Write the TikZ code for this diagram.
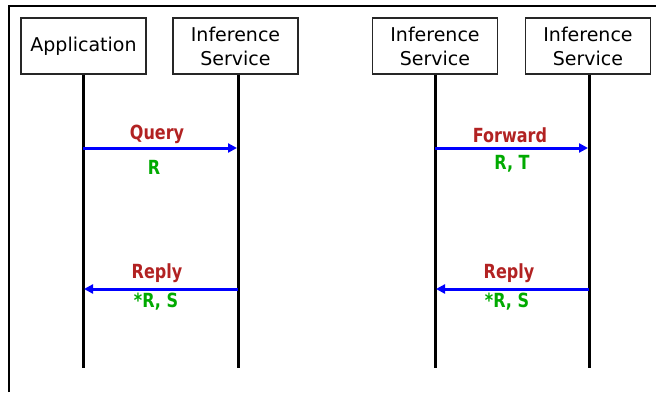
\documentclass[tikz,border=0pt]{standalone}
\usepackage{fontspec}
\setmainfont{DejaVu Sans}
\usetikzlibrary{arrows.meta}
\definecolor{msgred}{RGB}{178,34,34}
\definecolor{msggreen}{RGB}{0,170,0}
\definecolor{msgblue}{RGB}{0,0,255}
\newcommand{\tallbold}[1]{\scalebox{0.97}[1.18]{\bfseries #1}}
\begin{document}
\begin{tikzpicture}[x=1pt,y=-1pt,
  actor/.style={draw=black!85,line width=1.3pt,minimum width=125pt,minimum height=56pt,
    inner sep=0pt,align=center,font=\fontsize{19}{24}\selectfont},
  lifeline/.style={line width=3pt,black},
  msg/.style={line width=3pt,msgblue,-{Triangle[length=9pt,width=9pt]}},
  verb/.style={text=msgred,font=\fontsize{16.5}{18}\selectfont,inner sep=0pt},
  args/.style={text=msggreen,font=\fontsize{16.5}{18}\selectfont,inner sep=0pt}]
\useasboundingbox (0,0) rectangle (656,392);
% outer frame (top and left edges)
\draw[line width=1.2pt] (9,392) -- (9,6) -- (656,6);

% participants
\node[actor] (app) at (83.5,46) {Application};
\node[actor] (inf1) at (235.5,46) {Inference\\Service};
\node[actor] (inf2) at (435,46) {Inference\\Service};
\node[actor] (inf3) at (588,46) {Inference\\Service};

% lifeline ends
\coordinate (appE) at (83,368);
\coordinate (inf1E) at (238,368);
\coordinate (inf2E) at (435,368);
\coordinate (inf3E) at (589,368);
\draw[lifeline] (app.south -| appE) -- (appE);
\draw[lifeline] (inf1.south -| inf1E) -- (inf1E);
\draw[lifeline] (inf2.south -| inf2E) -- (inf2E);
\draw[lifeline] (inf3.south -| inf3E) -- (inf3E);

% message anchors on the lifelines
\coordinate (q1) at (83,148);
\coordinate (q2) at (237,148);
\coordinate (f1) at (435,148);
\coordinate (f2) at (588,148);
\coordinate (r1) at (238,289);
\coordinate (r2) at (84,289);
\coordinate (s1) at (589,289);
\coordinate (s2) at (436,289);

% left exchange
\draw[msg] (q1) -- (q2);
\node[verb] (qlab) at (157,134) {\tallbold{Query}};
\node[args] (qarg) at (154,167) {\tallbold{R}};
\draw[msg] (r1) -- (r2);
\node[verb] (rlab) at (157,273) {\tallbold{Reply}};
\node[args] (rarg) at (156,302) {\tallbold{*R, S}};

% right exchange
\draw[msg] (f1) -- (f2);
\node[verb] (flab) at (510,135) {\tallbold{Forward}};
\node[args] (farg) at (512,164) {\tallbold{R, T}};
\draw[msg] (s1) -- (s2);
\node[verb] (slab) at (509,273) {\tallbold{Reply}};
\node[args] (sarg) at (507,302) {\tallbold{*R, S}};
\end{tikzpicture}
\end{document}
